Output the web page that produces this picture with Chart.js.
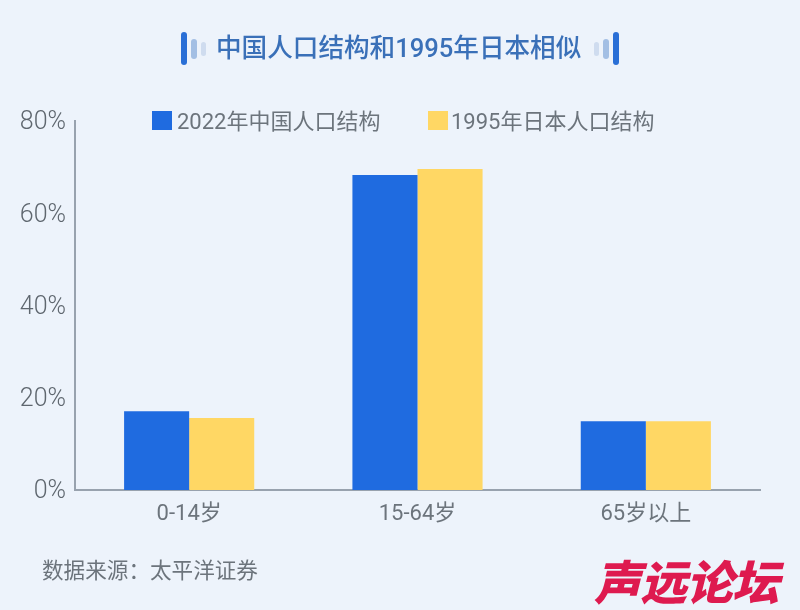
<!DOCTYPE html>
<html>
<head>
<meta charset="utf-8">
<script src="https://cdn.jsdelivr.net/npm/chart.js@4"></script>
<style>
  html, body { margin: 0; padding: 0; background: #edf3fb; }
  body { width: 800px; height: 610px; position: relative; overflow: hidden; font-family: Roboto, "Noto Sans CJK SC", sans-serif; }
  canvas { position: absolute; left: 0; top: 0; }
  .txt { position: absolute; white-space: nowrap; line-height: 1; }
  .title { left: 216px; top: 36px; font-size: 25.6px; font-weight: 500; color: #3a70b8; }
  .bar { position: absolute; border-radius: 3px; }
  .leg-box { position: absolute; width: 20px; height: 19px; }
  .leg { top: 111px; font-size: 22px; color: #6c747c; }
  .source { left: 42px; top: 560px; font-size: 21.6px; color: #6c747c; }
  .mark { left: 594px; top: 560px; font-size: 47px; font-weight: 900; font-style: italic; color: #de1a4f; letter-spacing: -1px; }
</style>
</head>
<body>
<canvas id="chart" width="800" height="610"></canvas>

<div class="bar" style="left:181px;top:32px;width:6px;height:33px;background:#2a6fd6"></div>
<div class="bar" style="left:191px;top:39px;width:6px;height:20px;background:#a3bfe4"></div>
<div class="bar" style="left:201px;top:42px;width:5px;height:14px;background:#cfdcef"></div>
<div class="txt title">中国人口结构和1995年日本相似</div>
<div class="bar" style="left:594px;top:42px;width:5px;height:14px;background:#cfdcef"></div>
<div class="bar" style="left:603px;top:39px;width:6px;height:20px;background:#a3bfe4"></div>
<div class="bar" style="left:613px;top:32px;width:6px;height:33px;background:#2a6fd6"></div>

<div class="leg-box" id="box0" style="left:152px;top:111px"></div>
<div class="txt leg" id="leg0" style="left:177px"></div>
<div class="leg-box" id="box1" style="left:428px;top:111px"></div>
<div class="txt leg" id="leg1" style="left:451px"></div>

<div class="txt source">数据来源：太平洋证券</div>
<div class="txt mark">声远论坛</div>

<script>
const categories = ['0-14岁', '15-64岁', '65岁以上'];
const seriesNames = ['2022年中国人口结构', '1995年日本人口结构'];
const china2022 = [17.1, 68.3, 14.9];
const japan1995 = [15.6, 69.6, 14.9];
const colors = ['#1f6be0', '#ffd764'];
const fontFamily = 'Roboto, "Noto Sans CJK SC", sans-serif';

seriesNames.forEach((name, i) => {
  document.getElementById('leg' + i).textContent = name;
  document.getElementById('box' + i).style.background = colors[i];
});

new Chart(document.getElementById('chart'), {
  type: 'bar',
  data: {
    labels: categories,
    datasets: [
      { label: seriesNames[0], data: china2022, backgroundColor: colors[0] },
      { label: seriesNames[1], data: japan1995, backgroundColor: colors[1] },
    ],
  },
  options: {
    responsive: false,
    animation: false,
    layout: { padding: { top: 121, right: 40, bottom: 0, left: 0 } },
    datasets: { bar: { barPercentage: 1, categoryPercentage: 0.57 } },
    plugins: { legend: { display: false }, tooltip: { enabled: false } },
    scales: {
      x: {
        afterFit: (s) => { s.height = 120; },
        grid: { display: false, drawTicks: false },
        border: { color: '#98a2ae', width: 2 },
        ticks: { color: '#6c747c', font: { family: fontFamily, size: 22 }, padding: 11 },
      },
      y: {
        min: 0,
        max: 80,
        afterFit: (s) => { s.width = 75; },
        grid: { display: false, drawTicks: false },
        border: { color: '#98a2ae', width: 2 },
        ticks: {
          stepSize: 20,
          color: '#5f676f',
          padding: 9,
          labelOffset: 2,
          font: { family: fontFamily, size: 25, weight: 300 },
          callback: (v) => v + '%',
        },
      },
    },
  },
});
</script>
</body>
</html>
